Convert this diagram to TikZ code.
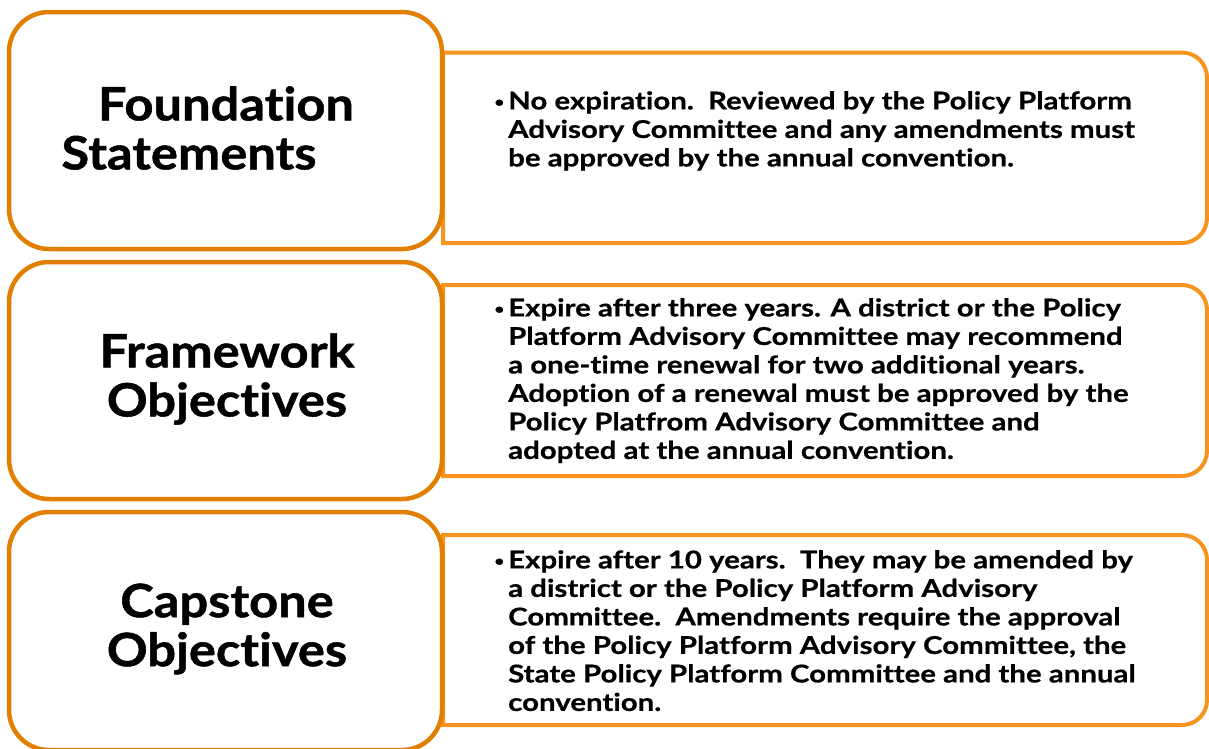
\documentclass[tikz,border=0pt]{standalone}
\usepackage{fontspec}
\setmainfont{Lato}
\newfontfamily\titlefont{Lato}[FakeStretch=1.1, FakeBold=1, Ligatures=NoCommon]
\newfontfamily\bodyfont{Lato}[FakeStretch=1.2, FakeBold=0.6, Ligatures=NoCommon]
\definecolor{leftorange}{HTML}{E07F00}
\definecolor{rightorange}{HTML}{F7941D}
\tikzset{
  x=1pt, y=-1pt,
  leftbox/.style={draw=leftorange, line width=4.5pt, fill=white, rounded corners=40pt},
  rightbox/.style={draw=rightorange, line width=4pt, fill=white},
  titletext/.style={font=\titlefont\fontsize{46}{49}\selectfont\bfseries, align=center, inner sep=0pt},
  bodytext/.style={font=\bodyfont\fontsize{24.5}{28.5}\selectfont\bfseries, align=left, inner sep=0pt, anchor=north west},
}
\newcommand{\bul}{\llap{{\fontsize{14}{14}\selectfont\raisebox{2.5pt}{•}}\hspace{4pt}}}
\newcommand{\rbox}[3]{% name, top, bottom
  \draw[rightbox] (443,#2) -- (1182,#2) .. controls (1195.8,#2) and (1207,#2+11.2) .. (1207,#2+25)
    -- (1207,#3-25) .. controls (1207,#3-11.2) and (1195.8,#3) .. (1182,#3) -- (443,#3) -- cycle;
  \coordinate (#1) at (443,#2);
}
\begin{document}
\begin{tikzpicture}
\useasboundingbox (0,0) rectangle (1209,748);
\begin{scope}
\clip (0,0) rectangle (1209,748);
% right boxes
\rbox{r1}{52.5}{243}
\rbox{r2}{285}{476}
\rbox{r3}{535}{725}
% left boxes
\draw[leftbox] (9,12) rectangle (442,249);
\draw[leftbox] (9,262) rectangle (442,499);
\draw[leftbox] (9,512) rectangle (442,750);
\end{scope}
% titles
\node[titletext] (t1) at (226,128) {Foundation\\Statements\hspace*{74pt}};
\node[titletext] (t2) at (227,379) {Framework\\Objectives};
\node[titletext] (t3) at (227,629) {Capstone\\Objectives};
% body texts
\node[bodytext] (b1) at (508,91) {\bul No expiration.\ \ Reviewed by the Policy Platform\\
Advisory Committee and any amendments must\\
be approved by the annual convention.};
\node[bodytext] (b2) at (508,298) {\bul Expire after three years. A district or the Policy\\
Platform Advisory Committee may recommend\\
a one-time renewal for two additional years.\\
Adoption of a renewal must be approved by the\\
Policy Platfrom Advisory Committee and\\
adopted at the annual convention.};
\node[bodytext] (b3) at (508,550) {\bul Expire after 10 years.\ \ They may be amended by\\
a district or the Policy Platform Advisory\\
Committee.\ \ Amendments require the approval\\
of the Policy Platform Advisory Committee, the\\
State Policy Platform Committee and the annual\\
convention.};
\end{tikzpicture}
\end{document}
